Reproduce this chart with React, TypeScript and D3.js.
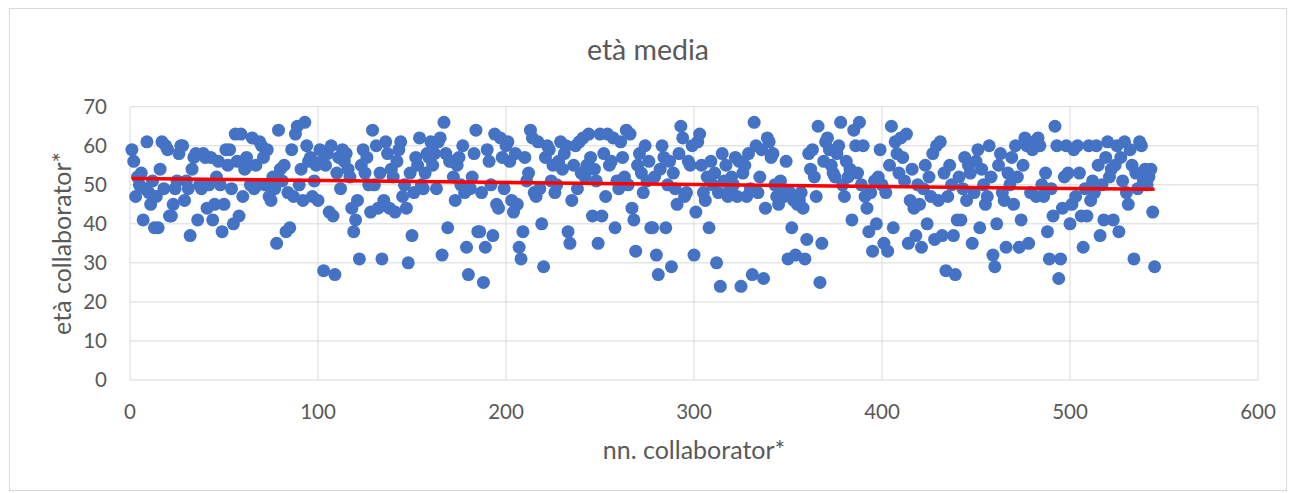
import React, { useEffect } from 'react';
import * as d3 from 'd3';

// età of each collaborator, in order (x = 1..545)
const ages: number[] = [
  59, 56, 47, 52, 50, 53, 41, 49, 61, 48, 45, 51, 39, 47, 39, 54, 61, 49, 60, 59,
  42, 42, 45, 49, 51, 58, 60, 60, 46, 51, 49, 37, 54, 57, 58, 41, 50, 49, 58, 57,
  44, 50, 57, 41, 45, 52, 56, 50, 38, 45, 59, 55, 59, 49, 40, 63, 56, 42, 63, 47,
  54, 57, 55, 50, 62, 49, 55, 50, 61, 60, 57, 50, 59, 47, 46, 52, 49, 35, 64, 54,
  51, 55, 38, 48, 39, 59, 47, 63, 65, 50, 54, 46, 66, 60, 56, 57, 47, 51, 55, 46,
  59, 56, 28, 55, 58, 43, 60, 42, 27, 53, 57, 49, 59, 56, 58, 54, 52, 44, 38, 41,
  46, 31, 55, 59, 53, 57, 50, 43, 64, 50, 60, 44, 53, 31, 46, 61, 58, 44, 54, 52,
  43, 56, 59, 61, 47, 50, 44, 30, 53, 37, 48, 57, 55, 62, 50, 49, 53, 58, 57, 61,
  55, 58, 49, 61, 62, 32, 66, 58, 39, 56, 56, 52, 46, 55, 57, 50, 60, 48, 34, 27,
  49, 52, 58, 64, 38, 38, 48, 25, 34, 59, 56, 50, 37, 63, 45, 44, 62, 57, 49, 60,
  61, 56, 46, 43, 58, 45, 34, 31, 38, 57, 51, 53, 64, 62, 48, 47, 61, 49, 40, 29,
  57, 60, 59, 51, 55, 48, 50, 56, 61, 54, 58, 60, 38, 35, 46, 55, 60, 49, 61, 53,
  62, 52, 55, 63, 57, 42, 54, 51, 35, 63, 42, 58, 47, 63, 55, 56, 62, 39, 51, 49,
  61, 57, 52, 64, 50, 63, 44, 41, 33, 55, 58, 53, 48, 60, 51, 56, 39, 39, 52, 32,
  27, 54, 60, 57, 39, 50, 56, 29, 53, 49, 45, 58, 65, 62, 47, 48, 56, 55, 60, 32,
  43, 61, 63, 55, 48, 46, 52, 39, 56, 50, 53, 30, 48, 24, 58, 51, 55, 47, 49, 52,
  50, 57, 47, 56, 24, 53, 55, 47, 58, 49, 27, 66, 60, 48, 52, 59, 26, 44, 62, 61,
  57, 58, 50, 47, 45, 51, 49, 47, 56, 31, 48, 39, 46, 32, 45, 46, 48, 44, 31, 36,
  58, 54, 59, 52, 47, 65, 25, 35, 56, 61, 62, 59, 55, 53, 52, 58, 60, 66, 50, 47,
  56, 52, 54, 41, 64, 60, 53, 66, 50, 60, 47, 44, 38, 48, 33, 51, 40, 52, 59, 50,
  35, 48, 33, 55, 65, 39, 61, 58, 53, 62, 57, 51, 63, 35, 46, 54, 44, 37, 50, 45,
  34, 49, 55, 40, 52, 47, 58, 36, 60, 46, 61, 37, 53, 28, 47, 55, 50, 37, 27, 41,
  52, 41, 49, 57, 46, 55, 53, 35, 48, 56, 59, 39, 54, 50, 45, 47, 60, 52, 32, 29,
  40, 55, 58, 48, 46, 34, 53, 50, 57, 45, 60, 52, 34, 41, 55, 62, 60, 35, 48, 59,
  61, 47, 62, 60, 50, 47, 53, 38, 31, 49, 42, 65, 60, 26, 31, 44, 52, 60, 53, 40,
  45, 59, 47, 60, 53, 42, 34, 49, 42, 60, 46, 51, 48, 60, 55, 37, 50, 41, 57, 61,
  52, 54, 41, 55, 60, 38, 57, 51, 61, 48, 45, 59, 55, 31, 53, 49, 61, 60, 51, 54,
  50, 52, 54, 43, 29,
];

const xTicks = [0, 100, 200, 300, 400, 500, 600];
const yTicks = [0, 10, 20, 30, 40, 50, 60, 70];

const title = 'età media';
const xTitle = 'nn. collaborator*';
const yTitle = 'età collaborator*';

const W = 1295;
const H = 493;
const font = 'Lato, "Open Sans", sans-serif';
const grey = '#595959';

export default function App() {
  useEffect(() => {
    document.body.style.margin = '0';
  }, []);

  const x = d3.scaleLinear().domain([0, 600]).range([130, 1258]);
  const y = d3.scaleLinear().domain([0, 70]).range([380, 106.7]);

  const pts = ages.map((v, i) => ({ n: i + 1, v }));

  // linear trend (least squares)
  const mx = d3.mean(pts, (d) => d.n) as number;
  const my = d3.mean(pts, (d) => d.v) as number;
  const sxy = d3.sum(pts, (d) => (d.n - mx) * (d.v - my));
  const sxx = d3.sum(pts, (d) => (d.n - mx) * (d.n - mx));
  const slope = sxy / sxx;
  const icpt = my - slope * mx;
  const trend = [1, pts.length].map((n) => [x(n), y(icpt + slope * n)] as [number, number]);
  const line = d3.line();

  return (
    <svg width={W} height={H} style={{ display: 'block', background: '#fff' }}>
      <rect x={9.5} y={8.5} width={1277} height={482} fill="#fff" stroke="#d9d9d9" />
      <text x={648} y={50} dy="0.35em" textAnchor="middle" fontFamily={font} fontSize={28.5} fill={grey}>
        {title}
      </text>

      {yTicks.map((t) => (
        <g key={'y' + t}>
          <line x1={x(0)} x2={x(600)} y1={y(t)} y2={y(t)} stroke="#d9d9d9" strokeWidth={1} />
          <text x={107} y={y(t)} dy="0.35em" textAnchor="end" fontFamily={font} fontSize={20.5} fill={grey}>
            {t}
          </text>
        </g>
      ))}
      {xTicks.map((t) => (
        <g key={'x' + t}>
          <line x1={x(t)} x2={x(t)} y1={y(0)} y2={y(70)} stroke="#d9d9d9" strokeWidth={1} />
          <text x={x(t)} y={412} dy="0.35em" textAnchor="middle" fontFamily={font} fontSize={20.5} fill={grey}>
            {t}
          </text>
        </g>
      ))}

      <text x={694} y={450} dy="0.35em" textAnchor="middle" fontFamily={font} fontSize={25} fill={grey}>
        {xTitle}
      </text>
      <text
        transform={`translate(62, ${(y(0) + y(70)) / 2}) rotate(-90)`}
        dy="0.35em"
        textAnchor="middle"
        fontFamily={font}
        fontSize={25}
        fill={grey}
      >
        {yTitle}
      </text>

      <g>
        {pts.map((d) => (
          <circle key={d.n} cx={x(d.n)} cy={y(d.v)} r={6.5} fill="#4472c4" />
        ))}
      </g>
      <path d={line(trend) ?? ''} stroke="#ff0000" strokeWidth={3.5} fill="none" />
    </svg>
  );
}
